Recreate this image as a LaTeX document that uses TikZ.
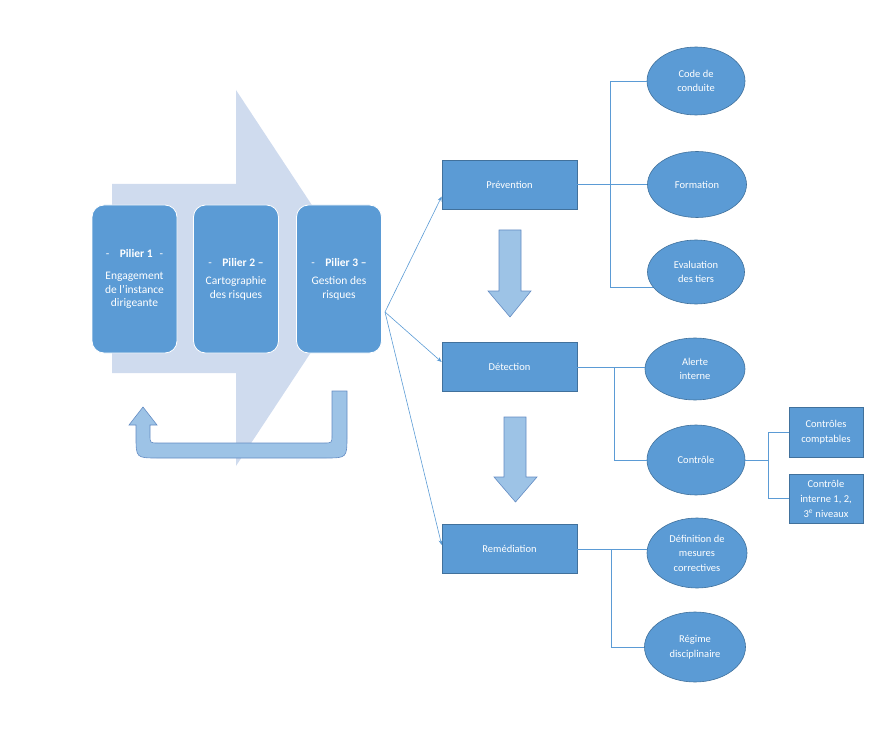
\documentclass[tikz,border=0pt]{standalone}
\usepackage{fontspec}
\setmainfont{Carlito}
\usetikzlibrary{shapes.geometric,arrows.meta,calc}
\definecolor{mainblue}{RGB}{91,155,213}
\definecolor{edgeblue}{RGB}{65,113,156}
\definecolor{lightblue}{RGB}{157,195,230}
\definecolor{arrowedge}{RGB}{100,140,195}
\definecolor{paleblue}{RGB}{207,219,238}
\definecolor{linkblue}{RGB}{91,155,213}
\begin{document}
\begin{tikzpicture}[x=1pt,y=-1pt,
 pillar/.style={draw=white, line width=0.8pt, fill=mainblue, rounded corners=12pt, minimum width=85pt, minimum height=148pt, text=white, font=\fontsize{11.5}{13.5}\selectfont, align=center, inner sep=0pt},
 phase/.style={draw=edgeblue, line width=0.6pt, fill=mainblue, minimum width=135pt, minimum height=49pt, text=white, font=\fontsize{10.5}{14}\selectfont, inner sep=0pt},
 leaf/.style={ellipse, draw=edgeblue, line width=0.6pt, fill=mainblue, text=white, font=\fontsize{10.5}{14.5}\selectfont, align=center, inner sep=0pt},
 subbox/.style={draw=edgeblue, line width=0.6pt, fill=mainblue, minimum width=74pt, text=white, font=\fontsize{10.5}{15}\selectfont, align=center, inner sep=0pt},
 link/.style={draw=linkblue, line width=0.8pt},
 thinarrow/.style={draw=linkblue, line width=0.6pt, -{Stealth[length=5pt,width=4pt]}},
 bigdown/.style={fill=lightblue, draw=arrowedge, line width=0.6pt}
]
\useasboundingbox (0,0) rectangle (873,730);

% big pale arrow
\fill[paleblue] (112,184) -- (236,184) -- (236,90) -- (360,278) -- (236,466) -- (236,373) -- (112,373) -- cycle;

% pillars
\node[pillar] (p1) at (134.5,279) {-\hspace{0.9em}\textbf{Pilier 1}\hspace{0.6em}-\\[8.5pt]Engagement\\de l’instance\\dirigeante};
\node[pillar] (p2) at (236,279) {-\hspace{0.9em}\textbf{Pilier 2 –}\\[5pt]Cartographie\\des risques};
\node[pillar] (p3) at (339,279) {-\hspace{0.9em}\textbf{Pilier 3 –}\\[5pt]Gestion des\\risques};

% U-turn arrow
\filldraw[bigdown] (332,391) -- (347,391) -- (347,436) .. controls (347,458) .. (325,458) -- (158,458) .. controls (136,458) .. (136,436) -- (136,425) -- (129,425) -- (143,407) -- (157,425) -- (150,425) -- (150,435) .. controls (150,443) .. (158,443) -- (324,443) .. controls (332,443) .. (332,435) -- cycle;

% phases
\node[phase] (prev) at (509.5,184.5) {Prévention};
\node[phase] (det) at (509.5,367) {Détection};
\node[phase] (rem) at (509.5,549) {Remédiation};

% down arrows
\filldraw[bigdown] (499,230) -- (521,230) -- (521,291) -- (531,291) -- (510,317) -- (488,291) -- (499,291) -- cycle;
\filldraw[bigdown] (504,417) -- (526,417) -- (526,477) -- (537,477) -- (515.5,502) -- (494,477) -- (504,477) -- cycle;

% leaves
\node[leaf, minimum width=98pt, minimum height=68pt] (code) at (696,81) {Code de\\conduite};
\node[leaf, minimum width=99pt, minimum height=66pt] (form) at (697,184.5) {Formation};
\node[leaf, minimum width=97pt, minimum height=64pt] (eval) at (696,272) {Evaluation\\des tiers};
\node[leaf, minimum width=100pt, minimum height=62pt] (alerte) at (695,369) {Alerte\\interne};
\node[leaf, minimum width=98pt, minimum height=70pt] (ctrl) at (696,460) {Contrôle};
\node[leaf, minimum width=100pt, minimum height=70pt] (def) at (697,553) {Définition de\\mesures\\correctives};
\node[leaf, minimum width=101pt, minimum height=70pt] (regime) at (695,647) {Régime\\disciplinaire};

\node[subbox, minimum height=50pt] (cc) at (826,432) {Contrôles\\comptables};
\node[subbox, minimum height=49pt] (ci) at (826,498.5) {Contrôle\\interne 1, 2,\\3\textsuperscript{e} niveaux};

% connectors
\coordinate (pv) at (610,184.5);
\draw[link] (prev.east) -- (form.west);
\draw[link] (code.west) -| (pv);
\draw[link] (eval.199) -| (pv);

\coordinate (dv) at (614,367);
\draw[link] (det.east) -- (det.east -| alerte.west);
\draw[link] (ctrl.west) -| (dv);

\coordinate (cv) at (768,460);
\draw[link] (ctrl.east) -- (cv);
\draw[link] (cc.west) -| (cv);
\draw[link] (ci.west) -| (cv);

\coordinate (rv) at (611,549);
\draw[link] (rem.east) -- (rem.east -| def.west);
\draw[link] (regime.west) -| (rv);

% thin arrows from pillar 3
\coordinate (src) at (385,312);
\draw[thinarrow] (src) -- ($(prev.west)+(0,12)$);
\draw[thinarrow] (src) -- ($(det.west)+(0,-5)$);
\draw[thinarrow] (src) -- ($(rem.west)+(0,-4)$);
\end{tikzpicture}
\end{document}
